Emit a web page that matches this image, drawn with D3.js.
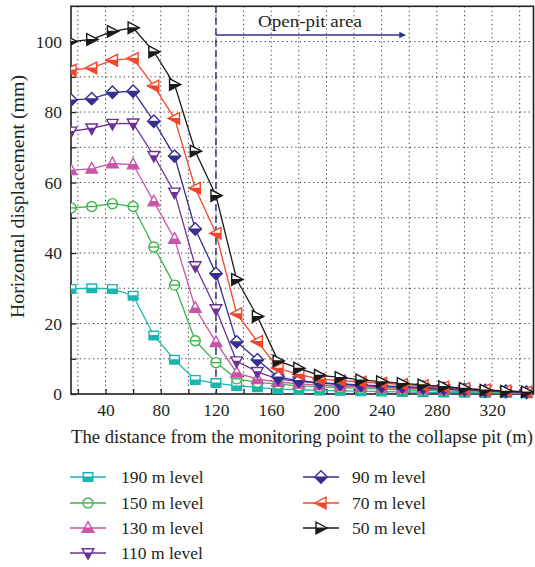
<!DOCTYPE html>
<html>
<head>
<meta charset="utf-8">
<script src="https://cdn.jsdelivr.net/npm/d3@7"></script>
<style>
  html, body { margin: 0; padding: 0; background: #fff; }
  svg { display: block; }
  text { font-family: "Liberation Serif", "Times New Roman", "DejaVu Serif", serif; fill: #231f20; }
</style>
</head>
<body>
<svg id="chart" width="535" height="567"></svg>
<script>
// Distance from the monitoring point to the collapse pit (m)
const distances = [15, 30, 45, 60, 75, 90, 105, 120, 135, 150, 165, 180, 195, 210, 225, 240, 255, 270, 285, 300, 315, 330, 345];

// Horizontal displacement (mm) for each level
const level190 = [29.8, 30.0, 29.8, 27.9, 16.6, 9.7, 4.0, 3.1, 2.3, 1.9, 1.4, 1.2, 1.0, 0.9, 0.8, 0.7, 0.6, 0.5, 0.4, 0.35, 0.3, 0.25, 0.2];
const level150 = [52.8, 53.2, 54.0, 53.2, 41.7, 30.9, 15.1, 8.9, 4.3, 3.3, 2.8, 2.3, 2.0, 1.8, 1.6, 1.4, 1.2, 1.0, 0.9, 0.7, 0.6, 0.5, 0.4];
const level130 = [63.5, 63.9, 65.4, 65.1, 54.6, 44.0, 24.4, 14.7, 6.0, 4.2, 3.4, 2.9, 2.5, 2.2, 2.0, 1.8, 1.6, 1.4, 1.2, 1.0, 0.8, 0.6, 0.4];
const level110 = [74.5, 75.4, 76.7, 76.8, 67.6, 57.2, 36.3, 24.1, 9.3, 6.3, 4.2, 3.6, 3.1, 2.7, 2.4, 2.1, 1.9, 1.6, 1.4, 1.2, 0.9, 0.7, 0.5];
const level90  = [83.4, 83.8, 85.6, 85.9, 77.4, 67.5, 46.8, 34.2, 14.8, 9.7, 4.8, 3.8, 3.2, 2.9, 2.6, 2.3, 2.1, 1.9, 1.6, 1.3, 1.0, 0.8, 0.5];
const level70  = [91.9, 92.5, 94.7, 95.2, 87.4, 78.2, 58.4, 45.6, 22.8, 14.9, 7.3, 5.6, 4.2, 3.8, 3.4, 3.1, 2.7, 2.4, 2.0, 1.6, 1.2, 0.9, 0.6];
const level50  = [100.0, 100.6, 102.9, 103.9, 97.1, 87.8, 68.9, 56.3, 32.5, 22.0, 9.4, 7.3, 5.3, 4.7, 4.0, 3.5, 3.0, 2.6, 2.1, 1.6, 1.1, 0.8, 0.6];

const seriesNames = ["190 m level", "150 m level", "130 m level", "110 m level", "90 m level", "70 m level", "50 m level"];
const seriesColors = ["#19b6b0", "#3bb54a", "#c855a8", "#6b3197", "#35308f", "#f2462a", "#1a1a1a"];
const seriesShapes = ["square", "circle", "triangleUp", "triangleDown", "diamond", "triangleLeft", "triangleRight"];
const seriesValues = [level190, level150, level130, level110, level90, level70, level50];

const xTickValues = [20, 40, 60, 80, 100, 120, 140, 160, 180, 200, 220, 240, 260, 280, 300, 320, 340];
const xTickLabels = [40, 80, 120, 160, 200, 240, 280, 320];
const yTickValues = [0, 10, 20, 30, 40, 50, 60, 70, 80, 90, 100, 110];
const yTickLabels = [0, 20, 40, 60, 80, 100];

const openPitStart = 120;
const openPitArrowEnd = 257;
const openPitLabel = "Open-pit area";

const xTitle = "The distance from the monitoring point to the collapse pit (m)";
const yTitle = "Horizontal displacement (mm)";

const plot = { left: 71, right: 533.5, top: 6.3, bottom: 394 };
const svg = d3.select("#chart");

const x = d3.scaleLinear().domain([15, 350]).range([plot.left, plot.right]);
const y = d3.scaleLinear().domain([0, 110]).range([plot.bottom, plot.top]);

const defs = svg.append("defs");
defs.append("clipPath").attr("id", "plot-clip")
  .append("rect")
  .attr("x", plot.left).attr("y", plot.top - 8)
  .attr("width", plot.right - plot.left + 8).attr("height", plot.bottom - plot.top + 16);
// lower half of a marker, in marker-local coordinates
defs.append("clipPath").attr("id", "lower-half")
  .append("rect").attr("x", -12).attr("y", -0.5).attr("width", 24).attr("height", 12);
defs.append("marker").attr("id", "arrow-head")
  .attr("viewBox", "0 0 10 10").attr("refX", 9).attr("refY", 5)
  .attr("markerWidth", 10).attr("markerHeight", 6.5)
  .attr("markerUnits", "userSpaceOnUse").attr("orient", "auto")
  .append("path").attr("d", "M0,0 L10,5 L0,10 Z").attr("fill", "#2e3192");

// dotted grid
const grid = svg.append("g").attr("class", "grid")
  .attr("stroke", "#333").attr("stroke-width", 1).attr("stroke-dasharray", "1.2,3.2");
grid.selectAll("line.v").data(xTickValues).join("line").attr("class", "v")
  .attr("x1", d => x(d)).attr("x2", d => x(d))
  .attr("y1", plot.top).attr("y2", plot.bottom);
grid.selectAll("line.h").data(yTickValues.filter(v => v > 0 && v < 110)).join("line").attr("class", "h")
  .attr("x1", plot.left).attr("x2", plot.right)
  .attr("y1", d => y(d)).attr("y2", d => y(d));

// axes with inward ticks
const xAxis = d3.axisBottom(x).tickValues(xTickValues).tickSizeInner(-5).tickSizeOuter(0)
  .tickPadding(10).tickFormat(d => xTickLabels.includes(d) ? d : "");
const gx = svg.append("g").attr("transform", `translate(0,${plot.bottom})`).call(xAxis);
const yAxis = d3.axisLeft(y).tickValues(yTickValues.filter(v => v < 110)).tickSizeInner(-5).tickSizeOuter(0)
  .tickPadding(9).tickFormat(d => yTickLabels.includes(d) ? d : "");
const gy = svg.append("g").attr("transform", `translate(${plot.left},0)`).call(yAxis);
[gx, gy].forEach(g => {
  g.attr("font-family", null);
  g.select(".domain").remove();
  g.selectAll(".tick line").attr("stroke", "#231f20").attr("stroke-width", 1.3);
  g.selectAll(".tick text").attr("font-size", 17.5).attr("fill", "#231f20");
});

// frame
svg.append("rect").attr("x", plot.left).attr("y", plot.top)
  .attr("width", plot.right - plot.left).attr("height", plot.bottom - plot.top)
  .attr("fill", "none").attr("stroke", "#231f20").attr("stroke-width", 1.6);

// open-pit boundary and label
svg.append("line")
  .attr("x1", x(openPitStart)).attr("x2", x(openPitStart))
  .attr("y1", plot.top).attr("y2", plot.bottom)
  .attr("stroke", "#2e3192").attr("stroke-width", 1.5).attr("stroke-dasharray", "7,4");
svg.append("line")
  .attr("x1", x(openPitStart)).attr("x2", x(openPitArrowEnd))
  .attr("y1", 35).attr("y2", 35)
  .attr("stroke", "#2e3192").attr("stroke-width", 1.4)
  .attr("marker-end", "url(#arrow-head)");
svg.append("text").attr("x", 258).attr("y", 27)
  .attr("font-size", 17.5).attr("textLength", 104).attr("lengthAdjust", "spacingAndGlyphs")
  .text(openPitLabel);

// marker drawing: white body, lower half filled, outline on top
function shapePath(shape) {
  switch (shape) {
    case "square": return "M-4.8,-4.3H4.8V4.3H-4.8Z";
    case "circle": return "M-5,0A5,5 0 1,0 5,0A5,5 0 1,0 -5,0Z";
    case "triangleUp": return "M0,-6.3L5.8,4.3L-5.8,4.3Z";
    case "triangleDown": return "M0,6.3L5.8,-4.3L-5.8,-4.3Z";
    case "diamond": return "M0,-6.2L6.2,0L0,6.2L-6.2,0Z";
    case "triangleLeft": return "M-6.3,0L5,-5.8L5,5.8Z";
    case "triangleRight": return "M6.3,0L-5,-5.8L-5,5.8Z";
  }
}
function drawMarker(g, shape, color) {
  const d = shapePath(shape);
  g.append("path").attr("d", d).attr("fill", "#fff");
  if (shape === "circle") {
    g.append("line").attr("x1", -5).attr("x2", 5).attr("y1", 0).attr("y2", 0)
      .attr("stroke", color).attr("stroke-width", 1.4);
  } else {
    g.append("path").attr("d", d).attr("fill", color).attr("clip-path", "url(#lower-half)");
  }
  g.append("path").attr("d", d).attr("fill", "none").attr("stroke", color).attr("stroke-width", 1.4);
}

// series
const line = d3.line().x((d, i) => x(distances[i])).y(d => y(d));
const seriesLayer = svg.append("g").attr("clip-path", "url(#plot-clip)");
seriesValues.forEach((vals, k) => {
  const g = seriesLayer.append("g");
  g.append("path").datum(vals).attr("d", line)
    .attr("fill", "none").attr("stroke", seriesColors[k]).attr("stroke-width", 1.3);
  vals.forEach((v, i) => {
    const m = g.append("g").attr("transform", `translate(${x(distances[i])},${y(v)})`);
    drawMarker(m, seriesShapes[k], seriesColors[k]);
  });
});

// axis titles
svg.append("text").attr("x", 71).attr("y", 443)
  .attr("font-size", 18).attr("textLength", 462).attr("lengthAdjust", "spacingAndGlyphs")
  .text(xTitle);
svg.append("text").attr("transform", "translate(24,318) rotate(-90)")
  .attr("font-size", 18).attr("textLength", 243).attr("lengthAdjust", "spacingAndGlyphs")
  .text(yTitle);

// legend in two columns
const legendCols = [{ lx: 70, tx: 121 }, { lx: 303, tx: 352 }];
const legendRowY = [477, 503, 528, 553];
seriesNames.forEach((name, k) => {
  const col = k < 4 ? 0 : 1;
  const row = k < 4 ? k : k - 4;
  const c = legendCols[col];
  const cy = legendRowY[row];
  const g = svg.append("g");
  g.append("line").attr("x1", c.lx).attr("x2", c.lx + 36).attr("y1", cy).attr("y2", cy)
    .attr("stroke", seriesColors[k]).attr("stroke-width", 1.3);
  drawMarker(g.append("g").attr("transform", `translate(${c.lx + 18},${cy})`), seriesShapes[k], seriesColors[k]);
  g.append("text").attr("x", c.tx).attr("y", cy + 5.5).attr("font-size", 17.5).text(name);
});
</script>
</body>
</html>
